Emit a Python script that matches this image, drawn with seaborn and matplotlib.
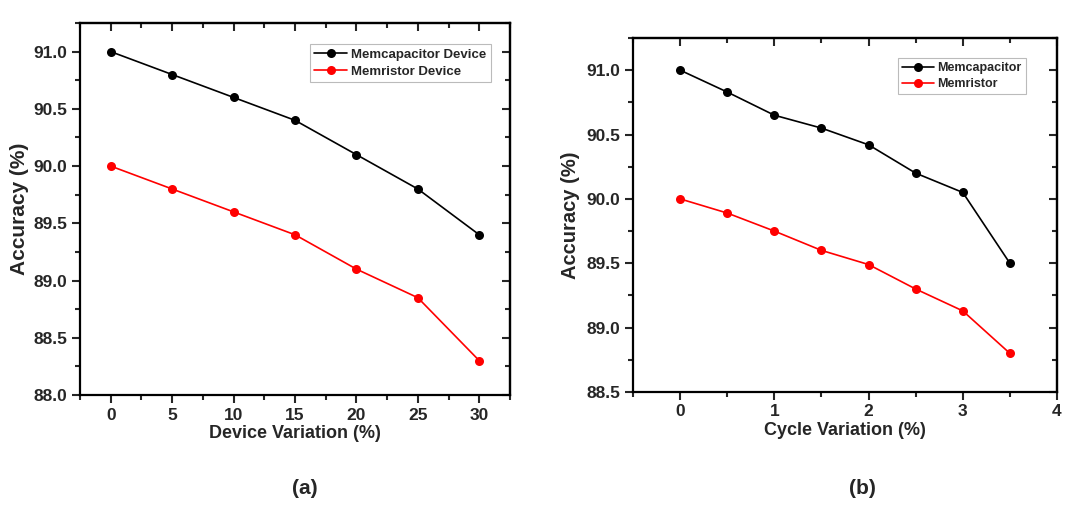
import numpy as np
import pandas as pd
import matplotlib
matplotlib.use("Agg")
import matplotlib.pyplot as plt
import seaborn as sns
from matplotlib.ticker import MultipleLocator

# panel (a): device variation
device_var = [0, 5, 10, 15, 20, 25, 30]
device_memcap = [91.0, 90.8, 90.6, 90.4, 90.1, 89.8, 89.4]
device_memris = [90.0, 89.8, 89.6, 89.4, 89.1, 88.85, 88.3]

# panel (b): cycle variation
cycle_var = [0, 0.5, 1, 1.5, 2, 2.5, 3, 3.5]
cycle_memcap = [91.0, 90.83, 90.65, 90.55, 90.42, 90.2, 90.05, 89.5]
cycle_memris = [90.0, 89.89, 89.75, 89.6, 89.49, 89.3, 89.13, 88.8]

sns.set_style("ticks")
plt.rcParams['font.family'] = ['Liberation Sans', 'DejaVu Sans']
plt.rcParams['font.weight'] = 'bold'
plt.rcParams['axes.labelweight'] = 'bold'


def make_frame(x, a, b, name_a, name_b):
    df_a = pd.DataFrame({"x": x, "acc": a, "series": name_a})
    df_b = pd.DataFrame({"x": x, "acc": b, "series": name_b})
    return pd.concat([df_a, df_b], ignore_index=True)


def style_axes(ax, xmaj, xmin, ymaj, ymin):
    ax.xaxis.set_major_locator(MultipleLocator(xmaj))
    ax.xaxis.set_minor_locator(MultipleLocator(xmin))
    ax.yaxis.set_major_locator(MultipleLocator(ymaj))
    ax.yaxis.set_minor_locator(MultipleLocator(ymin))
    ax.tick_params(which='both', direction='out', width=1.5, labelsize=12.5,
                   top=False, right=False, pad=3)
    ax.tick_params(which='major', length=6)
    ax.tick_params(which='minor', length=3.5)
    for sp in ax.spines.values():
        sp.set_linewidth(1.6)
        sp.set_color('black')
    # mirrored ticks pointing in on top/right
    sec_x = ax.secondary_xaxis('top')
    sec_x.xaxis.set_major_locator(MultipleLocator(xmaj))
    sec_x.xaxis.set_minor_locator(MultipleLocator(xmin))
    sec_x.tick_params(which='both', direction='in', width=1.5, labeltop=False)
    sec_x.tick_params(which='major', length=6)
    sec_x.tick_params(which='minor', length=3.5)
    sec_y = ax.secondary_yaxis('right')
    sec_y.yaxis.set_major_locator(MultipleLocator(ymaj))
    sec_y.yaxis.set_minor_locator(MultipleLocator(ymin))
    sec_y.tick_params(which='both', direction='in', width=1.5, labelright=False)
    sec_y.tick_params(which='major', length=6)
    sec_y.tick_params(which='minor', length=3.5)
    for s in (sec_x, sec_y):
        s.spines[:].set_linewidth(1.6)


fig = plt.figure(figsize=(10.83, 5.05), dpi=100)
ax1 = fig.add_axes([0.0739, 0.2178, 0.397, 0.7366])
ax2 = fig.add_axes([0.5845, 0.2238, 0.3915, 0.701])

palette = ['black', 'red']

df1 = make_frame(device_var, device_memcap, device_memris,
                 "Memcapacitor Device", "Memristor Device")
sns.lineplot(data=df1, x="x", y="acc", hue="series", palette=palette,
             marker='o', markersize=6.5, markeredgewidth=0, linewidth=1.2,
             ax=ax1)
ax1.set_xlim(-2.5, 32.5)
ax1.set_ylim(88.0, 91.25)
style_axes(ax1, 5, 2.5, 0.5, 0.25)
ax1.set_xlabel("Device Variation (%)", fontsize=13, labelpad=2)
ax1.set_ylabel("Accuracy (%)", fontsize=15, labelpad=3)
leg1 = ax1.legend(loc='upper right', bbox_to_anchor=(0.956, 0.944), fontsize=9.5,
                  frameon=True, fancybox=False, edgecolor='#aaaaaa',
                  handlelength=2.5, borderpad=0.35, labelspacing=0.35,
                  handletextpad=0.3, borderaxespad=0)
leg1.get_frame().set_linewidth(0.8)

df2 = make_frame(cycle_var, cycle_memcap, cycle_memris,
                 "Memcapacitor", "Memristor")
sns.lineplot(data=df2, x="x", y="acc", hue="series", palette=palette,
             marker='o', markersize=6.5, markeredgewidth=0, linewidth=1.2,
             ax=ax2)
ax2.set_xlim(-0.5, 4.0)
ax2.set_ylim(88.5, 91.25)
style_axes(ax2, 1, 0.5, 0.5, 0.25)
ax2.set_xlabel("Cycle Variation (%)", fontsize=13, labelpad=2)
ax2.set_ylabel("Accuracy (%)", fontsize=14.5, labelpad=5)
leg2 = ax2.legend(loc='upper right', bbox_to_anchor=(0.927, 0.9435), fontsize=9,
                  frameon=True, fancybox=False, edgecolor='#aaaaaa',
                  handlelength=2.5, borderpad=0.35, labelspacing=0.3,
                  handletextpad=0.3, borderaxespad=0)
leg2.get_frame().set_linewidth(0.8)

fig.text(305 / 1083, 1 - 488 / 505, "(a)", fontsize=15, fontweight='bold',
         ha='center', va='center')
fig.text(862 / 1083, 1 - 488 / 505, "(b)", fontsize=15, fontweight='bold',
         ha='center', va='center')

fig.savefig("out.png", dpi=100)
